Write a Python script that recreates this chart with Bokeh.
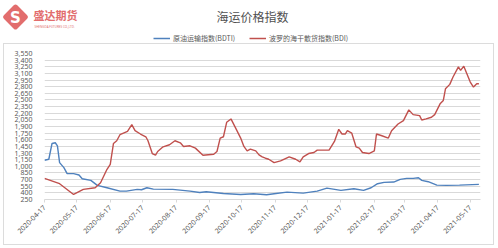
import math
import pandas as pd
from bokeh.plotting import figure
from bokeh.core.properties import value
from bokeh.models import (FixedTicker, NumeralTickFormatter, DatetimeTickFormatter,
                          Range1d, Legend, LegendItem)
from bokeh.embed import file_html
from bokeh.resources import INLINE

title_text = "海运价格指数"
brand_text = "盛达期货"
brand_sub = "SHENGDA FUTURES CO.,LTD."
bdti_name = "原油运输指数(BDTI)"
bdi_name = "波罗的海干散货指数(BDI)"

bdi_dates = ["2020-04-17","2020-05-01","2020-05-14","2020-05-23","2020-06-03","2020-06-08","2020-06-14","2020-06-17","2020-06-20","2020-06-23","2020-06-26",
             "2020-07-03","2020-07-07","2020-07-10","2020-07-15","2020-07-20","2020-07-22","2020-07-26","2020-07-29","2020-07-31",
             "2020-08-05","2020-08-11","2020-08-16","2020-08-21","2020-08-24","2020-08-30",
             "2020-09-04","2020-09-11","2020-09-21","2020-09-24","2020-09-27","2020-09-30",
             "2020-10-03","2020-10-07","2020-10-11","2020-10-16","2020-10-19","2020-10-22","2020-10-25","2020-10-30",
             "2020-11-02","2020-11-05","2020-11-08","2020-11-11","2020-11-16","2020-11-22","2020-11-30",
             "2020-12-06","2020-12-10","2020-12-13","2020-12-18","2020-12-23","2020-12-26",
             "2021-01-06","2021-01-11","2021-01-15","2021-01-18","2021-01-21","2021-01-23","2021-01-27","2021-01-31",
             "2021-02-03","2021-02-06","2021-02-12","2021-02-17","2021-02-19","2021-02-24",
             "2021-03-02","2021-03-05","2021-03-11","2021-03-16","2021-03-21","2021-03-25","2021-03-31",
             "2021-04-02","2021-04-06","2021-04-11","2021-04-14","2021-04-19","2021-04-22","2021-04-24","2021-04-28",
             "2021-05-01","2021-05-06","2021-05-08","2021-05-11","2021-05-17","2021-05-20","2021-05-23","2021-05-25"]
bdi_values = [728,607,364,478,515,630,933,1046,1517,1578,1714,
              1790,1942,1805,1730,1668,1578,1289,1251,1335,
              1441,1487,1578,1532,1449,1464,
              1411,1251,1274,1335,1638,1668,
              1995,2071,1881,1638,1449,1350,1388,1350,
              1259,1213,1183,1160,1084,1122,1213,
              1160,1100,1213,1289,1312,1365,
              1365,1563,1836,1730,1730,1805,1752,1441,
              1411,1312,1289,1350,1730,1691,
              1638,1805,1957,2033,2276,2169,2146,
              2048,2071,2109,2169,2412,2488,2753,2852,
              3019,3246,3170,3262,2905,2791,2867,2867]

bdti_dates = ["2020-04-17","2020-04-21","2020-04-24","2020-04-27","2020-04-29","2020-05-01","2020-05-05","2020-05-08","2020-05-14","2020-05-19",
              "2020-05-22","2020-05-30","2020-06-05","2020-06-14","2020-06-26","2020-07-02","2020-07-12","2020-07-16","2020-07-21","2020-07-27",
              "2020-08-14","2020-08-30","2020-09-08","2020-09-14","2020-09-30","2020-10-16","2020-10-28","2020-11-09","2020-11-16","2020-11-28",
              "2020-12-13","2020-12-26","2021-01-04","2021-01-17","2021-01-29","2021-02-07","2021-02-14","2021-02-20","2021-02-26","2021-03-07",
              "2021-03-13","2021-03-19","2021-03-25","2021-03-30","2021-04-02","2021-04-08","2021-04-16","2021-04-25","2021-05-07","2021-05-25"]
bdti_values = [1138,1160,1517,1532,1464,1084,971,834,834,804,
               720,682,569,516,440,440,478,470,516,485,
               478,440,409,425,387,364,379,356,379,417,
               394,440,508,455,493,455,516,607,637,645,
               705,728,728,743,682,652,576,569,576,591]

x_tick_dates = ["2020-04-17","2020-05-17","2020-06-17","2020-07-17","2020-08-17","2020-09-17","2020-10-17",
                "2020-11-17","2020-12-17","2021-01-17","2021-02-17","2021-03-17","2021-04-17","2021-05-17"]
y_ticks = list(range(250, 3551, 150))

BLUE = "#4f81bd"
RED = "#c0504d"
GRAY_TXT = "#595959"
LOGO_RED = "#e26d6d"

bdi_x = pd.to_datetime(bdi_dates)
bdti_x = pd.to_datetime(bdti_dates)
x_start = pd.Timestamp("2020-04-17")
x_end = x_start + pd.Timedelta(days=404.5)

# ---------------- header (logo, title, legend) ----------------
HW, HH = 498, 43
hdr = figure(width=HW, height=HH, output_backend="svg", toolbar_location=None,
             x_range=Range1d(0, HW), y_range=Range1d(HH, 0),
             x_axis_location=None, y_axis_location=None,
             min_border=0, min_border_left=0, min_border_right=0,
             min_border_top=0, min_border_bottom=0)
hdr.grid.visible = False
hdr.outline_line_color = None
hdr.background_fill_color = "white"
hdr.border_fill_color = "white"

hdr.scatter(x=[15], y=[16.5], marker="square", size=14, angle=math.pi / 4,
            fill_color=LOGO_RED, line_color=LOGO_RED, line_width=5, line_join="round")
hdr.text(x=[15], y=[17], text=["S"], text_color="white", text_font=value("DejaVu Sans"),
         text_font_style="bold", text_font_size="15px", text_align="center",
         text_baseline="middle")
hdr.text(x=[33], y=[14], text=[brand_text], text_color=LOGO_RED,
         text_font=value("Noto Sans CJK SC"), text_font_style="bold",
         text_font_size="11px", text_align="left", text_baseline="middle")
hdr.text(x=[34], y=[26], text=[brand_sub], text_color=LOGO_RED,
         text_font=value("Noto Sans"), text_font_size="3px",
         text_align="left", text_baseline="middle")
hdr.text(x=[252], y=[16], text=[title_text], text_color="#505050",
         text_font=value("Noto Sans CJK SC"), text_font_size="12px",
         text_align="center", text_baseline="middle")

# legend renderers (same series; they fall outside the header's range)
lg_bdti = hdr.line(bdti_x, bdti_values, line_color=BLUE, line_width=1.5)
lg_bdi = hdr.line(bdi_x, bdi_values, line_color=RED, line_width=1.5)
legend_style = dict(orientation="horizontal", glyph_width=17, glyph_height=10,
                    label_standoff=3, spacing=0, padding=0, margin=0,
                    border_line_color=None, background_fill_alpha=0,
                    label_text_font="Noto Sans CJK SC", label_text_font_size="7px",
                    label_text_color=GRAY_TXT, label_height=10)
hdr.add_layout(Legend(items=[LegendItem(label=bdti_name, renderers=[lg_bdti])],
                     location=(153, 0), **legend_style))
hdr.add_layout(Legend(items=[LegendItem(label=bdi_name, renderers=[lg_bdi])],
                     location=(249, 0), **legend_style))

# ---------------- main chart ----------------
W, H = 491, 202
FL, FR, FT, FB = 40, 476, 9, 155

p = figure(width=W, height=H, output_backend="svg", toolbar_location=None,
           x_axis_type="datetime",
           x_range=Range1d(x_start, x_end), y_range=Range1d(250, 3550),
           min_border_left=FL, min_border_right=W - FR,
           min_border_top=FT, min_border_bottom=H - FB,
           styles={"border": "1px solid #dcdcdc", "margin-left": "3px"})
p.outline_line_color = None
p.background_fill_color = "white"
p.border_fill_color = "white"

p.line(bdti_x, bdti_values, line_color=BLUE, line_width=1.4)
p.line(bdi_x, bdi_values, line_color=RED, line_width=1.4)

yax = p.yaxis[0]
yax.ticker = FixedTicker(ticks=y_ticks)
yax.formatter = NumeralTickFormatter(format="0,0")
yax.axis_line_color = None
yax.major_tick_line_color = None
yax.minor_tick_line_color = None
yax.major_label_text_font = "Noto Sans"
yax.major_label_text_font_size = "7px"
yax.major_label_text_color = GRAY_TXT
yax.major_label_standoff = 6

p.ygrid.ticker = FixedTicker(ticks=y_ticks)
p.ygrid.grid_line_color = "#d9d9d9"
p.ygrid.grid_line_width = 1
p.xgrid.grid_line_color = None

xax = p.xaxis[0]
xax.ticker = FixedTicker(ticks=[pd.Timestamp(d).value // 10**6 for d in x_tick_dates])
xax.formatter = DatetimeTickFormatter(days="%Y-%m-%d", months="%Y-%m-%d", years="%Y-%m-%d")
xax.major_label_orientation = math.pi / 4
xax.axis_line_color = "#d9d9d9"
xax.major_tick_line_color = "#d9d9d9"
xax.major_tick_out = 3
xax.major_tick_in = 0
xax.minor_tick_line_color = None
xax.major_label_text_font = "Noto Sans"
xax.major_label_text_font_size = "7px"
xax.major_label_text_color = GRAY_TXT
xax.major_label_standoff = 4

# two separate roots: the header and the chart are laid out independently
open("out.html", "w").write(file_html([hdr, p], INLINE))
